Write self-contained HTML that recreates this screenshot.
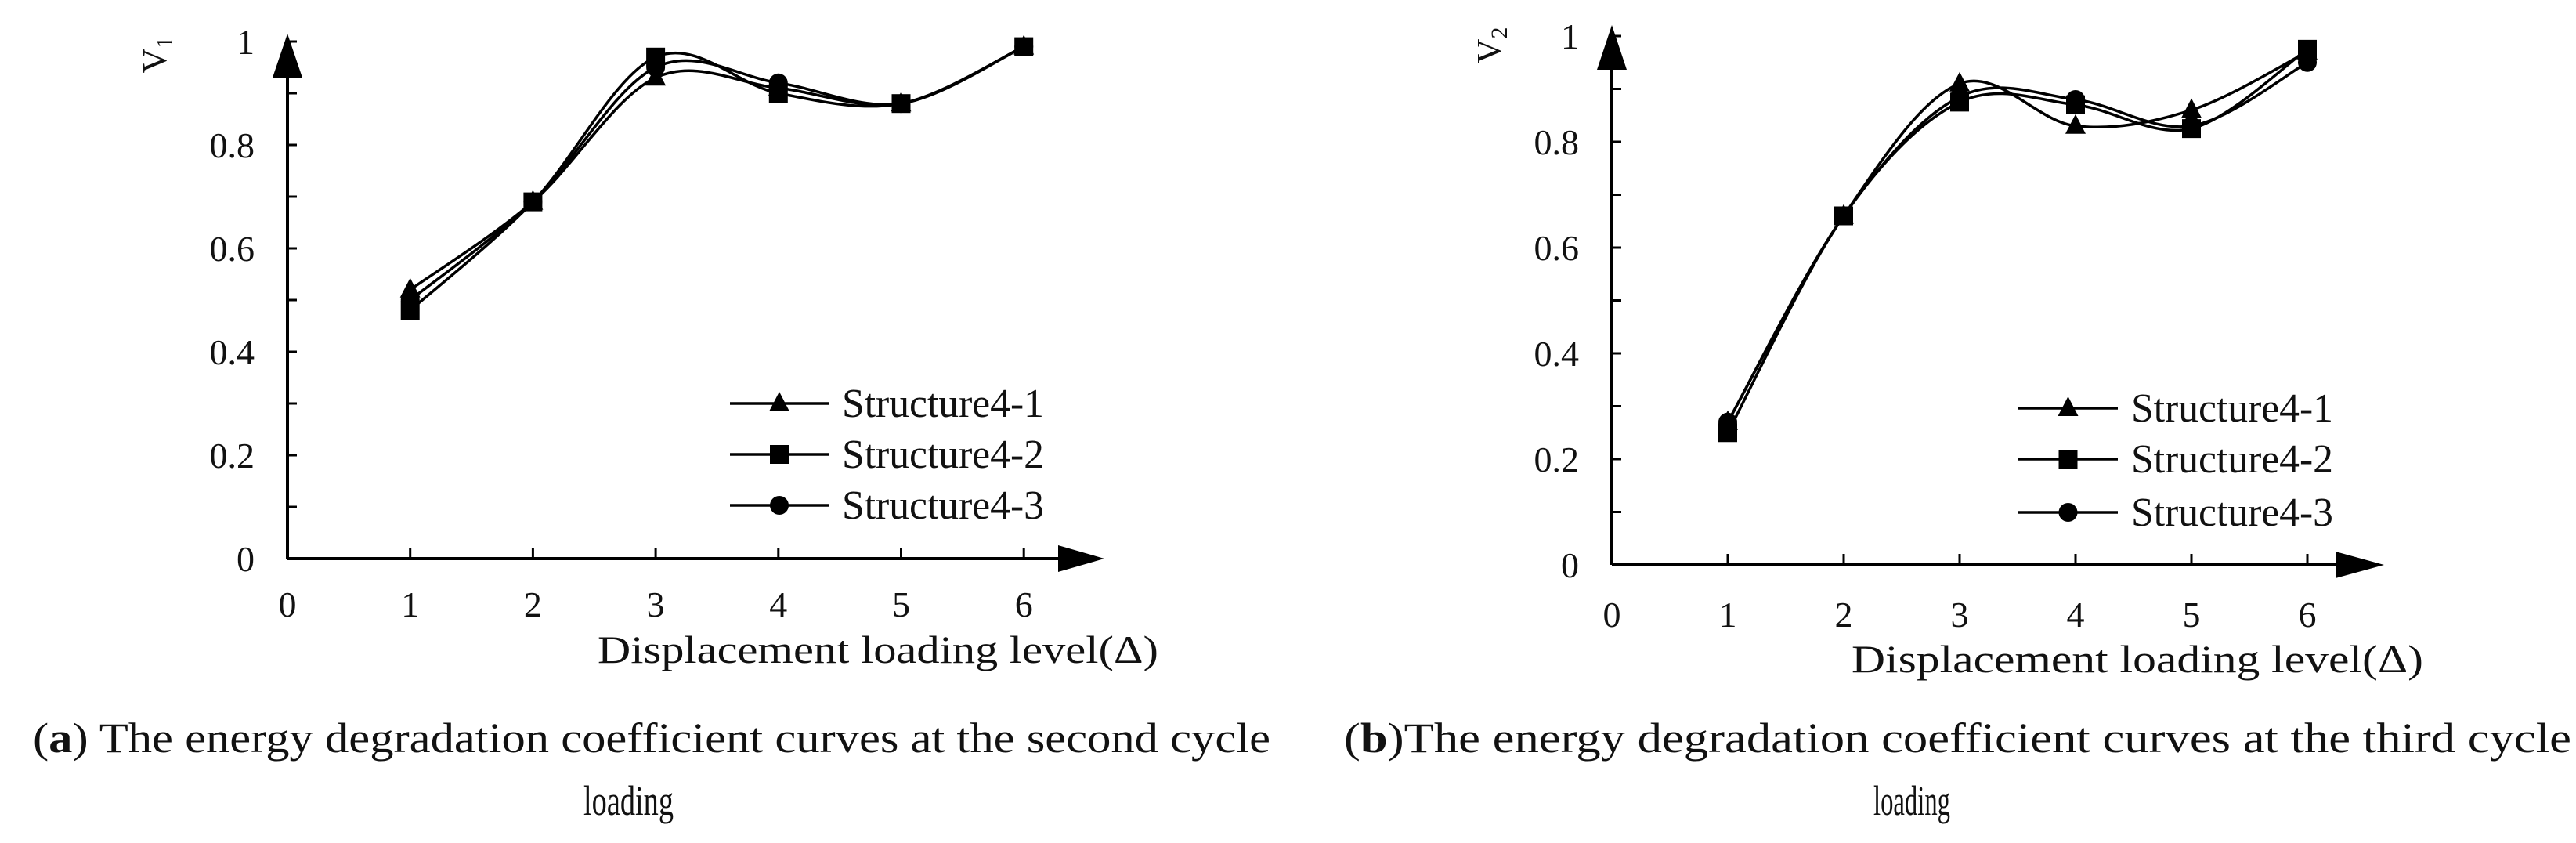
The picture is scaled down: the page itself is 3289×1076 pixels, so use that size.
<!DOCTYPE html>
<html><head><meta charset="utf-8"><style>
html,body{margin:0;padding:0;background:#fff}
svg{display:block}
text{font-family:"Liberation Serif",serif;fill:#111}
</style></head><body>
<svg id="fig" width="3289" height="1076" viewBox="0 0 3289 1076"></svg>
<script>
const categories=[1,2,3,4,5,6];
const xTickLabels=["0","1","2","3","4","5","6"];
const yTickLabels=["0","0.2","0.4","0.6","0.8","1"];
const seriesNames=["Structure4-1","Structure4-2","Structure4-3"];
const aS1=[0.52,0.69,0.93,0.91,0.88,0.99];
const aS2=[0.48,0.69,0.97,0.90,0.88,0.99];
const aS3=[0.50,0.69,0.95,0.92,0.88,0.99];
const bS1=[0.27,0.66,0.91,0.83,0.86,0.97];
const bS2=[0.25,0.66,0.875,0.87,0.825,0.975];
const bS3=[0.27,0.66,0.885,0.88,0.83,0.95];

const NS="http://www.w3.org/2000/svg";
const svg=document.getElementById('fig');
function mk(tag,attrs,parent){const e=document.createElementNS(NS,tag);for(const k in attrs)e.setAttribute(k,attrs[k]);(parent||svg).appendChild(e);return e;}

function spline(pts){
  let d=`M${pts[0][0]},${pts[0][1]}`;
  for(let i=0;i<pts.length-1;i++){
    const p0=pts[i-1]||pts[i],p1=pts[i],p2=pts[i+1],p3=pts[i+2]||p2;
    const t=6;
    const c1=[p1[0]+(p2[0]-p0[0])/t,p1[1]+(p2[1]-p0[1])/t];
    const c2=[p2[0]-(p3[0]-p1[0])/t,p2[1]-(p3[1]-p1[1])/t];
    d+=` C${c1[0]},${c1[1]} ${c2[0]},${c2[1]} ${p2[0]},${p2[1]}`;
  }
  return d;
}
function marker(g,type,x,y){
  let m;
  if(type===0)m=mk('polygon',{points:`${x},${y-15} ${x-13},${y+10} ${x+13},${y+10}`,fill:'#000'},g);
  else if(type===1)m=mk('rect',{x:x-12,y:y-12,width:24,height:24,fill:'#000'},g);
  else m=mk('circle',{cx:x,cy:y,r:12,fill:'#000'},g);
  return m;
}

function chart(cfg,series){
  const g=mk('g',{});
  
  
  const X=v=>cfg.x0+v*cfg.dx;
  const Y=v=>cfg.y0-v*cfg.dy;
  const ya=mk('line',{x1:X(0),y1:Y(0),x2:X(0),y2:cfg.yArrowBase,stroke:'#000','stroke-width':4},g);
  
  
  const yar=mk('polygon',{points:`${X(0)},${cfg.yArrowTop} ${X(0)-19},${cfg.yArrowBase} ${X(0)+19},${cfg.yArrowBase}`,fill:'#000'},g);
  
  
  const xa=mk('line',{x1:X(0),y1:Y(0),x2:cfg.xArrowBase,y2:Y(0),stroke:'#000','stroke-width':4},g);
  
  
  const xar=mk('polygon',{points:`${cfg.xArrowBase},${Y(0)-17} ${cfg.xArrowTip},${Y(0)} ${cfg.xArrowBase},${Y(0)+17}`,fill:'#000'},g);
  
  
  for(let i=1;i<=10;i++){
    mk('line',{x1:X(0),y1:Y(i/10),x2:X(0)+12,y2:Y(i/10),stroke:'#000','stroke-width':3},g);
  }
  yTickLabels.forEach((t,i)=>{
    const tx=mk('text',{x:X(0)-42,y:Y(i*0.2)+16,'text-anchor':'end','font-size':46},g);
    tx.textContent=t;
    
    
  });
  categories.forEach(c=>{
    mk('line',{x1:X(c),y1:Y(0),x2:X(c),y2:Y(0)-14,stroke:'#000','stroke-width':3},g);
  });
  xTickLabels.forEach((t,i)=>{
    const tx=mk('text',{x:X(i),y:cfg.xLabY,'text-anchor':'middle','font-size':46},g);
    tx.textContent=t;
    
    
  });
  const xt=mk('text',{x:cfg.titleX,y:cfg.titleY,'font-size':50,textLength:cfg.titleW,lengthAdjust:'spacingAndGlyphs'},g);
  xt.textContent='Displacement loading level(Δ)';
  
  
  const yt=mk('text',{x:0,y:0,'font-size':44,transform:`translate(${cfg.ylabX},${cfg.ylabY}) rotate(-90)`,'text-anchor':'middle'},g);
  yt.innerHTML=cfg.ylab;
  
  
  series.forEach((s,si)=>{
    const sg=mk('g',{},g);
    
    
    const pts=categories.map((c,i)=>[X(c),Y(s[i])]);
    const p=mk('path',{d:spline(pts),fill:'none',stroke:'#000','stroke-width':3.5},sg);
    
    
    pts.forEach(pt=>{
      const m=marker(sg,si,pt[0],pt[1]);
      
      
    });
  });
  seriesNames.forEach((n,i)=>{
    const lg=mk('g',{},g);
    
    
    const y=cfg.legY[i];
    mk('line',{x1:cfg.legX1,y1:y,x2:cfg.legX2,y2:y,stroke:'#000','stroke-width':3.5},lg);
    marker(lg,i,(cfg.legX1+cfg.legX2)/2,y);
    const t=mk('text',{x:cfg.legTX,y:y+17,'font-size':52,textLength:258,lengthAdjust:'spacingAndGlyphs'},lg);
    t.textContent=n;
  });
}

chart({name:'chart-a',x0:367,dx:156.7,y0:713,dy:660,yArrowTop:43,yArrowBase:99,xArrowBase:1351,xArrowTip:1410,
  xLabY:787,titleX:763,titleY:846,titleW:716,ylabX:212,ylabY:70,ylab:'V<tspan font-size="30" dy="8">1</tspan>',
  legX1:932,legX2:1058,legTX:1075,legY:[515,580,645]},[aS1,aS2,aS3]);
chart({name:'chart-b',x0:2058,dx:148,y0:721,dy:675,yArrowTop:32,yArrowBase:89,xArrowBase:2982,xArrowTip:3044,
  xLabY:800,titleX:2364,titleY:858,titleW:730,ylabX:1916,ylabY:58,ylab:'V<tspan font-size="30" dy="8">2</tspan>',
  legX1:2577,legX2:2704,legTX:2721,legY:[521,586,654]},[bS1,bS2,bS3]);

function cap(x,y,w,html,name,anchor){
  const t=mk('text',{x:x,y:y,'font-size':54,textLength:w,lengthAdjust:'spacingAndGlyphs'});
  if(anchor)t.setAttribute('text-anchor',anchor);
  t.innerHTML=html;
  
  
}
cap(42,960,1580,'(<tspan font-weight="bold">a</tspan>) The energy degradation coefficient curves at the second cycle','caption-a-line1');
cap(745,1040,115,'loading','caption-a-line2');
cap(1716,960,1567,'(<tspan font-weight="bold">b</tspan>)The energy degradation coefficient curves at the third cycle','caption-b-line1');
cap(2392,1040,98,'loading','caption-b-line2');
</script>
</body></html>
